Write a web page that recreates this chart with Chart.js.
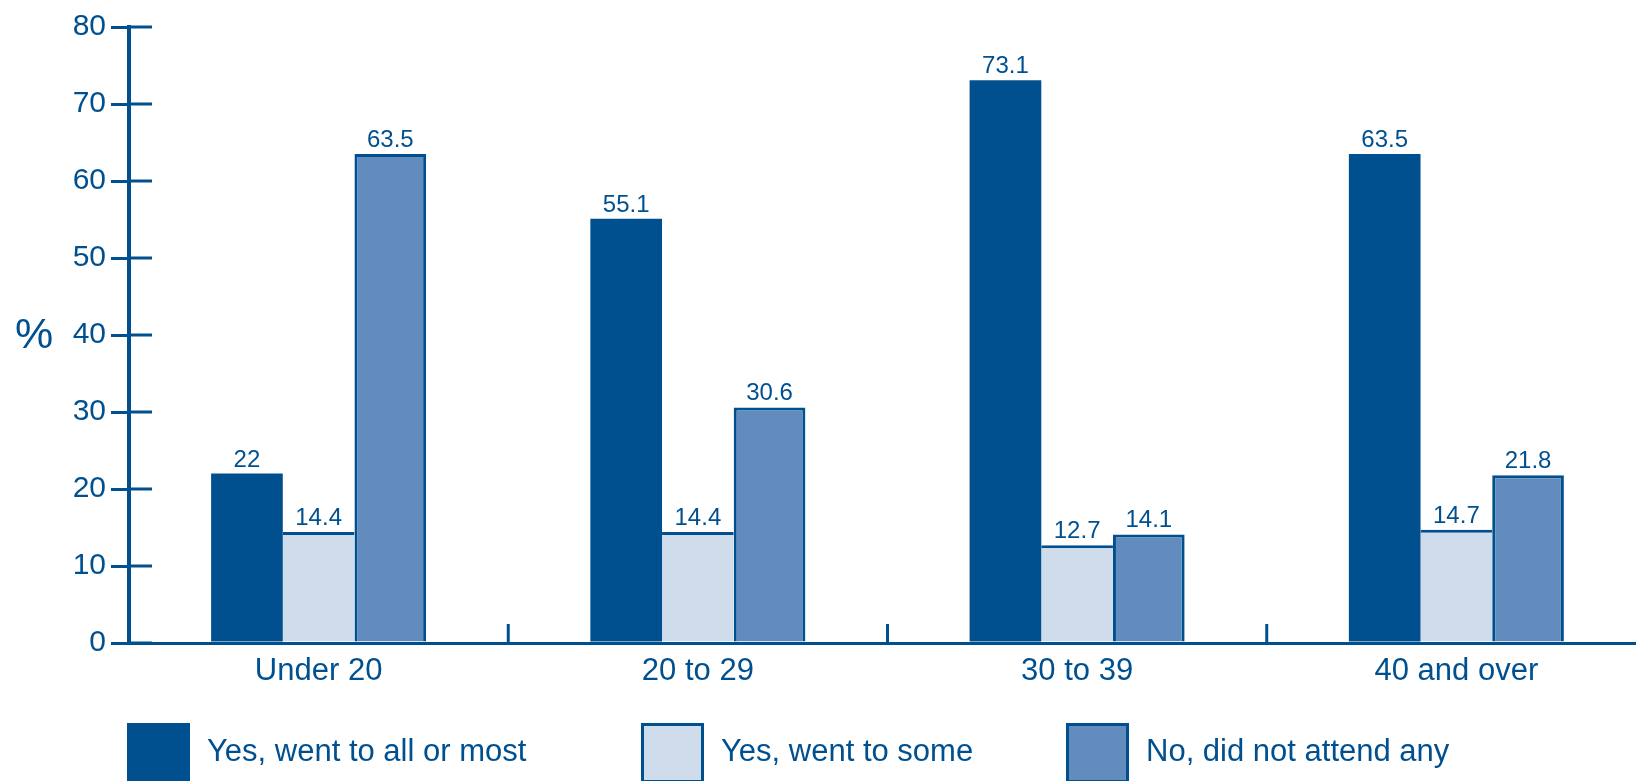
<!DOCTYPE html>
<html>
<head>
<meta charset="utf-8">
<script src="https://cdn.jsdelivr.net/npm/chart.js@4.4.1/dist/chart.umd.min.js"></script>
<style>
  html, body { margin: 0; padding: 0; background: #fff; overflow: hidden; }
</style>
</head>
<body>
<canvas id="chart" width="1660" height="800"></canvas>
<script>
// --- data ---
const CATEGORIES = ['Under 20', '20 to 29', '30 to 39', '40 and over'];
const SERIES_NAMES = ['Yes, went to all or most', 'Yes, went to some', 'No, did not attend any'];
const ALL_OR_MOST = [22, 55.1, 73.1, 63.5];
const SOME = [14.4, 14.4, 12.7, 14.7];
const NONE = [63.5, 30.6, 14.1, 21.8];
const Y_MIN = 0, Y_MAX = 80, Y_STEP = 10;
const Y_UNIT = '%';

const DARK = '#00508f';
const LIGHT = '#cfdcec';
const MID = '#628cbd';
const FONT = '"Liberation Sans", Arial, sans-serif';

// ticks poking into the plot, value labels, unit label and the legend row
const extras = {
    id: 'extras',
    afterDraw(chart, args, opts) {
        const { ctx, chartArea, scales: { x, y } } = chart;
        ctx.save();
        ctx.strokeStyle = DARK;
        ctx.lineWidth = 3;

        y.ticks.forEach(t => {
            const py = y.getPixelForValue(t.value);
            ctx.beginPath();
            ctx.moveTo(chartArea.left, py);
            ctx.lineTo(chartArea.left + 23, py);
            ctx.stroke();
        });

        for (let i = 1; i < CATEGORIES.length; i++) {
            const px = (x.getPixelForValue(i - 1) + x.getPixelForValue(i)) / 2;
            ctx.beginPath();
            ctx.moveTo(px, chartArea.bottom);
            ctx.lineTo(px, chartArea.bottom - 19);
            ctx.stroke();
        }

        // value labels
        ctx.fillStyle = DARK;
        ctx.font = '24px ' + FONT;
        ctx.textAlign = 'center';
        ctx.textBaseline = 'alphabetic';
        chart.data.datasets.forEach((ds, di) => {
            chart.getDatasetMeta(di).data.forEach((bar, i) => {
                ctx.fillText(String(ds.data[i]), bar.x, bar.y - 7);
            });
        });

        // unit
        ctx.font = '43px ' + FONT;
        ctx.textBaseline = 'middle';
        ctx.fillText(Y_UNIT, 34, y.getPixelForValue(40) + 1);

        // legend
        ctx.textAlign = 'left';
        ctx.font = '31px ' + FONT;
        chart.data.datasets.forEach((ds, di) => {
            const lx = opts.itemX[di];
            ctx.fillStyle = ds.backgroundColor;
            ctx.fillRect(lx, opts.top, opts.box, opts.boxH);
            ctx.strokeRect(lx + 1.5, opts.top + 1.5, opts.box - 3, opts.boxH - 3);
            ctx.fillStyle = DARK;
            ctx.fillText(ds.label, lx + opts.textGap, opts.top + 29);
        });
        ctx.restore();
    }
};

new Chart(document.getElementById('chart'), {
    type: 'bar',
    data: {
        labels: CATEGORIES,
        datasets: [
            { label: SERIES_NAMES[0], data: ALL_OR_MOST, backgroundColor: DARK, borderColor: DARK, borderWidth: 0 },
            { label: SERIES_NAMES[1], data: SOME, backgroundColor: LIGHT, borderColor: DARK,
              borderWidth: { top: 3, left: 0, right: 0, bottom: 0 } },
            { label: SERIES_NAMES[2], data: NONE, backgroundColor: MID, borderColor: DARK,
              borderWidth: { top: 3, left: 3, right: 3, bottom: 0 } }
        ]
    },
    options: {
        responsive: false,
        animation: false,
        devicePixelRatio: 1,
        categoryPercentage: 0.567,
        barPercentage: 1,
        layout: { padding: { top: 27, right: 14, bottom: 0, left: 0 } },
        plugins: {
            legend: { display: false },
            tooltip: { enabled: false },
            extras: { itemX: [127, 641, 1066], top: 723, box: 63, boxH: 60, textGap: 80 }
        },
        scales: {
            x: {
                grid: { display: false, drawTicks: false },
                border: { display: true, color: DARK, width: 3 },
                ticks: { color: DARK, font: { family: FONT, size: 31 }, padding: 10 },
                afterFit: s => { s.height = 800 - 643; }
            },
            y: {
                min: Y_MIN, max: Y_MAX,
                grid: { drawOnChartArea: false, drawTicks: true, tickLength: 18, color: DARK, lineWidth: 3 },
                border: { display: true, color: DARK, width: 4 },
                ticks: { stepSize: Y_STEP, color: DARK, font: { family: FONT, size: 30 }, padding: 5 },
                afterFit: s => { s.width = 129; }
            }
        }
    },
    plugins: [extras]
});
</script>
</body>
</html>
